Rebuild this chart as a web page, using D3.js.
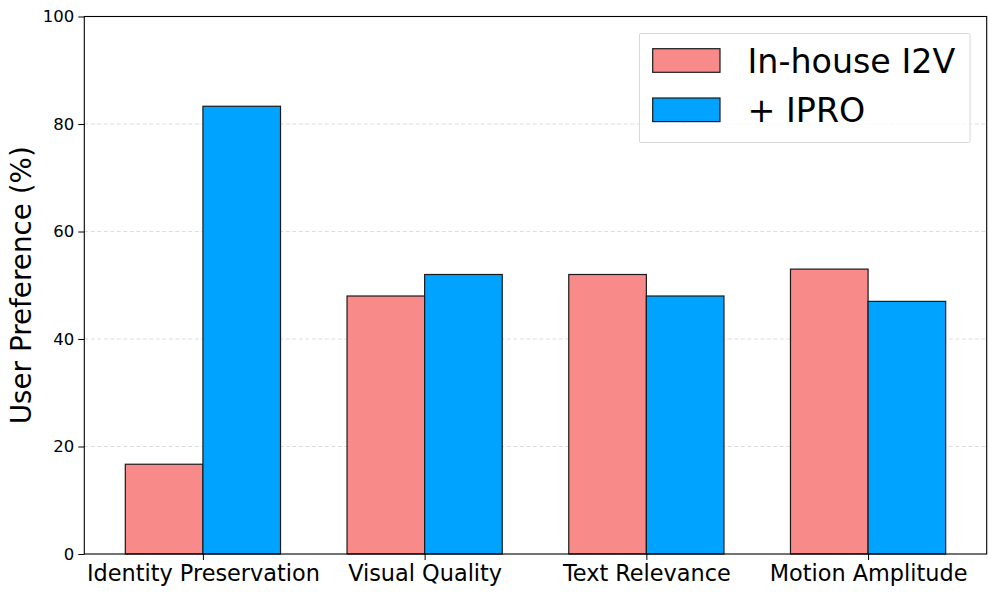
<!DOCTYPE html>
<html>
<head>
<meta charset="utf-8">
<script src="https://cdn.jsdelivr.net/npm/d3@7"></script>
<style>
  body { margin: 0; background: #fff; }
  text { font-family: "DejaVu Sans", sans-serif; }
</style>
</head>
<body>
<svg></svg>
<script>
// chart data
const categories = ["Identity Preservation", "Visual Quality", "Text Relevance", "Motion Amplitude"];
const seriesNames = ["In-house I2V", "+ IPRO"];
const inHouse = [16.7, 48, 52, 53];
const ipro = [83.3, 52, 48, 47];
const yTicks = [0, 20, 40, 60, 80, 100];
const colours = ["#f88a8a", "#00a3ff"];

const WIDTH = 997;
const HEIGHT = 596;
const plotL = 84.3, plotR = 986.7, plotT = 16.5, plotB = 554;

let svg = d3.select('svg').attr('width', WIDTH).attr('height', HEIGHT);

// matplotlib-like x domain: bar width 0.35, 5% margins
let xScale = d3.scaleLinear().domain([-0.535, 3.535]).range([plotL, plotR]);
let yScale = d3.scaleLinear().domain([0, 100]).range([plotB, plotT]);
const barW = 0.35;

// grid
svg.append('g').selectAll('line')
  .data(yTicks.filter(d => d > 0 && d < 100))
  .join('line')
  .attr('x1', plotL).attr('x2', plotR)
  .attr('y1', d => yScale(d)).attr('y2', d => yScale(d))
  .style('stroke', '#d9d9d9').style('stroke-width', 0.9)
  .style('stroke-dasharray', '4,2.5');

// bars
const series = [inHouse, ipro];
series.forEach(function(vals, s) {
  svg.append('g').selectAll('rect')
    .data(vals)
    .join('rect')
    .attr('x', (d, i) => xScale(i + (s === 0 ? -barW : 0)))
    .attr('width', xScale(barW) - xScale(0))
    .attr('y', d => yScale(d))
    .attr('height', d => yScale(0) - yScale(d))
    .style('fill', colours[s])
    .style('stroke', '#1a1a1a').style('stroke-width', 1.2);
});

// frame
svg.append('rect')
  .attr('x', plotL).attr('y', plotT)
  .attr('width', plotR - plotL).attr('height', plotB - plotT)
  .style('fill', 'none').style('stroke', '#000').style('stroke-width', 1.1);

// y axis
let yAxis = d3.axisLeft(yScale).tickValues(yTicks).tickSize(6).tickPadding(4).tickFormat(d3.format('d'));
let gy = svg.append('g').attr('transform', `translate(${plotL},0)`).call(yAxis);
gy.select('.domain').remove();
gy.selectAll('text').style('font-size', '16.5px').style('fill', '#000');
gy.selectAll('line').style('stroke', '#000');

// x axis
let xAxis = d3.axisBottom(xScale).tickValues(d3.range(categories.length)).tickSize(6).tickPadding(5)
  .tickFormat(i => categories[i]);
let gx = svg.append('g').attr('transform', `translate(0,${plotB})`).call(xAxis);
gx.select('.domain').remove();
gx.selectAll('text').style('font-size', '22.4px').style('fill', '#000');
gx.selectAll('line').style('stroke', '#000');

// y label
svg.append('text')
  .attr('transform', `translate(31,${(plotT + plotB) / 2}) rotate(-90)`)
  .attr('text-anchor', 'middle')
  .style('font-size', '27.8px')
  .text('User Preference (%)');

// legend
let lg = svg.append('g');
lg.append('rect')
  .attr('x', 639.5).attr('y', 33.5).attr('width', 330.5).attr('height', 109)
  .attr('rx', 1.5)
  .style('fill', 'rgba(255,255,255,0.8)').style('stroke', '#d8d8d8').style('stroke-width', 1);
seriesNames.forEach(function(name, s) {
  lg.append('rect')
    .attr('x', 652.7).attr('y', 48.7 + s * 49.3).attr('width', 67.3).attr('height', 23.6)
    .style('fill', colours[s]).style('stroke', '#1a1a1a').style('stroke-width', 1.2);
  lg.append('text')
    .attr('x', 747.5).attr('y', 72.5 + s * 49.3)
    .style('font-size', '33.3px')
    .text(name);
});
</script>
</body>
</html>
